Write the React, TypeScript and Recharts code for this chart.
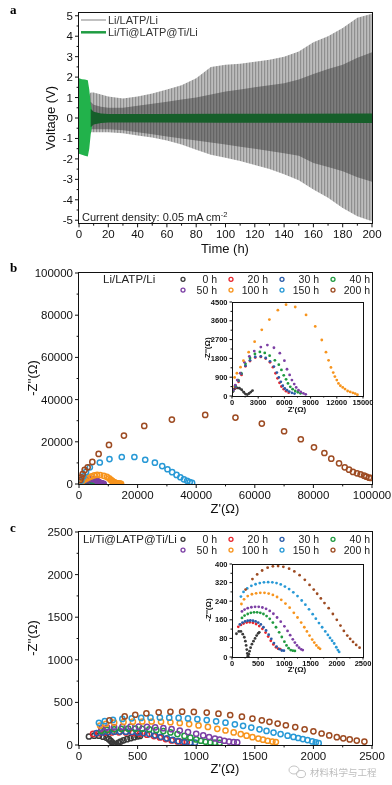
import React from 'react'
import { ComposedChart, ScatterChart, Scatter, Area, XAxis, YAxis } from 'recharts'

const FONT = '"Liberation Sans", Arial, Helvetica, sans-serif'
const SERIF = '"Liberation Serif", "DejaVu Serif", serif'

// ---- panel a: galvanostatic cycling envelopes ----
const grayTime = [3, 5, 8, 10, 15, 20, 30, 40, 50, 60, 70, 80, 90, 100, 110, 120, 130, 140, 150, 160, 170, 180, 190, 200]
const grayOuterHigh = [0.3, 0.95, 1.25, 1.25, 1.15, 1.05, 0.95, 1.05, 1.2, 1.4, 1.6, 1.95, 2.5, 2.6, 2.65, 2.75, 2.85, 3.0, 3.25, 3.7, 4.0, 4.4, 4.9, 5.1]
const grayOuterLow = [-0.3, -0.6, -0.7, -0.7, -0.7, -0.7, -0.75, -0.85, -0.95, -1.1, -1.3, -1.55, -1.8, -1.95, -2.1, -2.3, -2.5, -2.75, -3.05, -3.5, -3.9, -4.4, -4.8, -5.05]
const grayInnerHigh = [0.2, 0.55, 0.8, 0.65, 0.55, 0.5, 0.5, 0.6, 0.7, 0.8, 0.9, 1.0, 1.15, 1.3, 1.4, 1.5, 1.6, 1.7, 1.88, 2.15, 2.4, 2.6, 2.95, 3.22]
const grayInnerLow = [-0.2, -0.4, -0.55, -0.55, -0.55, -0.55, -0.6, -0.7, -0.8, -0.9, -1.0, -1.1, -1.2, -1.3, -1.4, -1.5, -1.62, -1.72, -1.85, -2.2, -2.4, -2.6, -2.9, -3.12]

const greenTime = [0, 2, 4, 6, 7, 8, 9]
const greenHigh = [1.95, 1.9, 1.88, 1.85, 1.4, 0.7, 0.35]
const greenLow = [-1.75, -1.8, -1.85, -1.88, -1.5, -0.8, -0.4]

const coreTime = [8, 10, 15, 20, 50, 100, 150, 200]
const coreHigh = [0.45, 0.3, 0.22, 0.2, 0.2, 0.21, 0.21, 0.22]
const coreLow = [-0.45, -0.32, -0.24, -0.22, -0.22, -0.23, -0.23, -0.24]

const timeMajor = [0, 20, 40, 60, 80, 100, 120, 140, 160, 180, 200]
const timeMinor = [10, 30, 50, 70, 90, 110, 130, 150, 170, 190]
const voltMajor = [-5, -4, -3, -2, -1, 0, 1, 2, 3, 4, 5]
const voltMinor = [-4.5, -3.5, -2.5, -1.5, -0.5, 0.5, 1.5, 2.5, 3.5, 4.5]

// ---- panel b: Li/LATP/Li impedance, [Z', -Z''] ----
const b0h = [[30, 200], [150, 300], [350, 360], [600, 385], [850, 370], [1100, 300], [1350, 180], [1550, 90], [1750, 70], [1950, 120], [2150, 190], [2350, 260]]
const b20h = [[110, 210], [410, 410], [750, 680], [1090, 1010], [1540, 1420], [2060, 1670], [2660, 1840], [3300, 1870], [3860, 1790], [4350, 1610], [4690, 1380], [4990, 1090], [5210, 845], [5440, 630], [5660, 455], [5925, 325], [6190, 230], [6490, 160]]
const b30h = [[110, 230], [410, 440], [750, 730], [1090, 1060], [1540, 1450], [2060, 1710], [2660, 1870], [3300, 1900], [3860, 1820], [4350, 1660], [4800, 1410], [5140, 1120], [5360, 890], [5590, 680], [5810, 490], [6040, 360], [6300, 280], [6560, 210], [6860, 150], [7160, 115]]
const b40h = [[110, 240], [410, 490], [710, 760], [1050, 1090], [1540, 1540], [2060, 1820], [2625, 2010], [3190, 2110], [3750, 2060], [4310, 1930], [4910, 1710], [5360, 1500], [5660, 1250], [5925, 990], [6190, 800], [6410, 600], [6675, 440], [6940, 325], [7240, 240], [7540, 180], [7840, 130]]
const b50h = [[110, 280], [375, 520], [600, 760], [940, 1090], [1425, 1610], [1990, 1900], [2550, 2150], [3300, 2340], [4050, 2440], [4800, 2310], [5475, 2050], [6000, 1690], [6300, 1280], [6600, 1010], [6860, 760], [7125, 570], [7350, 410], [7610, 280], [7875, 195], [8175, 130], [8440, 80]]
const b100h = [[40, 440], [300, 890], [560, 1090], [975, 1380], [1310, 1690], [1910, 2100], [2590, 2600], [3410, 3170], [4280, 3660], [5250, 4110], [6190, 4370], [7240, 4260], [8480, 3880], [9530, 3330], [10280, 2680], [10760, 2100], [11060, 1710], [11330, 1370], [11590, 1120], [11780, 930], [12000, 760], [12190, 600], [12410, 490], [12680, 410], [12940, 330], [13240, 240], [13540, 195], [13840, 150], [14100, 115], [14360, 65]]
const b150h = [[800, 1600], [1500, 3600], [2400, 5700], [3700, 7900], [7100, 10200], [10400, 11800], [14600, 12800], [18900, 12800], [22600, 11500], [25900, 10100], [28400, 8500], [30200, 7000], [31800, 5600], [33300, 4300], [34600, 3200], [35800, 2200], [36900, 1500], [37800, 900], [38600, 500]]
const b200h = [[455, 1900], [795, 3160], [1250, 4750], [1930, 6650], [2950, 7900], [4550, 10440], [6700, 14240], [10230, 18500], [15340, 22940], [22270, 27530], [31700, 30540], [43070, 32750], [53400, 31500], [62400, 28640], [70000, 25000], [75700, 21200], [80200, 17400], [83750, 14700], [86100, 12000], [88750, 9800], [90700, 7900], [92160, 6800], [93500, 5700], [94900, 5060], [96100, 4590], [97300, 3960], [98070, 3480], [99000, 3000], [99660, 2850]]

// ---- panel c: Li/Ti@LATP@Ti/Li impedance ----
const c0h = [[85, 100], [130, 110], [170, 110], [205, 98], [235, 85], [255, 68], [270, 50], [282, 32], [292, 15], [300, 4], [310, 2], [320, 12], [335, 25], [355, 40], [380, 55], [410, 68], [440, 80], [470, 92], [500, 102], [520, 106]]
const c20h = [[120, 130], [170, 138], [220, 144], [280, 148], [340, 149], [400, 147], [460, 142], [520, 133], [580, 121], [640, 105], [690, 88], [740, 70], [790, 54], [840, 42], [880, 36], [920, 34]]
const c30h = [[150, 140], [200, 148], [250, 153], [300, 156], [350, 157], [400, 156], [450, 153], [500, 148], [550, 140], [600, 128], [650, 114], [700, 96], [750, 78], [800, 60], [850, 45], [900, 34], [950, 28], [990, 27]]
const c40h = [[190, 168], [240, 178], [300, 185], [360, 190], [420, 192], [480, 192], [540, 190], [600, 185], [660, 176], [720, 164], [780, 148], [840, 128], [900, 106], [950, 86], [1000, 66], [1040, 50], [1080, 38], [1120, 30], [1160, 27], [1200, 26]]
const c50h = [[190, 196], [240, 204], [300, 210], [370, 214], [440, 216], [510, 216], [580, 213], [650, 207], [720, 198], [790, 186], [860, 170], [930, 152], [1000, 132], [1060, 112], [1110, 94], [1160, 76], [1200, 62], [1240, 50], [1280, 40], [1320, 33], [1350, 30]]
const c100h = [[180, 228], [230, 248], [300, 262], [380, 270], [460, 274], [540, 276], [620, 276], [700, 273], [780, 267], [860, 258], [940, 246], [1020, 230], [1100, 212], [1180, 190], [1250, 170], [1320, 148], [1380, 128], [1430, 110], [1480, 92], [1530, 75], [1570, 62], [1610, 50], [1650, 40], [1680, 35]]
const c150h = [[170, 260], [220, 280], [290, 295], [370, 306], [450, 313], [530, 318], [610, 321], [690, 322], [770, 321], [850, 318], [930, 312], [1010, 303], [1090, 292], [1170, 278], [1250, 262], [1330, 243], [1400, 225], [1470, 205], [1540, 184], [1600, 165], [1660, 146], [1720, 128], [1780, 110], [1830, 95], [1870, 82], [1910, 70], [1950, 58], [1990, 42], [2020, 30], [2045, 22]]
const c200h = [[260, 290], [390, 335], [480, 355], [575, 372], [680, 384], [780, 390], [880, 391], [980, 388], [1090, 380], [1190, 368], [1290, 352], [1390, 332], [1480, 310], [1560, 290], [1625, 272], [1695, 252], [1765, 232], [1845, 210], [1925, 185], [2000, 160], [2070, 135], [2135, 112], [2200, 92], [2255, 78], [2310, 65], [2370, 52], [2435, 40]]

const seriesNames = ['0 h', '20 h', '30 h', '40 h', '50 h', '100 h', '150 h', '200 h']
const seriesColors = ['#3a3a3a', '#e8262d', '#2a5ba8', '#1f9a3f', '#7c3fa4', '#f7941d', '#2899d6', '#9d4b22']
const bData = [b0h, b20h, b30h, b40h, b50h, b100h, b150h, b200h]
const cData = [c0h, c20h, c30h, c40h, c50h, c100h, c150h, c200h]

const bMainXMajor = [0, 20000, 40000, 60000, 80000, 100000]
const bMainXMinor = [10000, 30000, 50000, 70000, 90000]
const bMainYMajor = [0, 20000, 40000, 60000, 80000, 100000]
const bMainYMinor = [10000, 30000, 50000, 70000, 90000]
const bInsetXMajor = [0, 3000, 6000, 9000, 12000, 15000]
const bInsetXMinor = [1500, 4500, 7500, 10500, 13500]
const bInsetYMajor = [0, 900, 1800, 2700, 3600, 4500]
const bInsetYMinor = [450, 1350, 2250, 3150, 4050]
const cMainMajor = [0, 500, 1000, 1500, 2000, 2500]
const cMainMinor = [250, 750, 1250, 1750, 2250]
const cInsetYMajor = [0, 80, 160, 240, 320, 400]
const cInsetYMinor = [40, 120, 200, 280, 360]

const toPts = (arr: number[][]) => arr.map(([x, y]) => ({ x, y }))

const xTick = (majors: number[], size: number, len: number, weight = 'normal', gap = 1.5) => (p: any) => {
  const v = p.payload.value
  const major = majors.includes(v)
  return (
    <g>
      <line x1={p.x} y1={p.y} x2={p.x} y2={p.y + (major ? len : len * 0.6)} stroke="#111" strokeWidth={1} />
      {major && (
        <text x={p.x} y={p.y + len + gap} dy="0.8em" textAnchor="middle" fontSize={size} fontWeight={weight} fill="#111" fontFamily={FONT}>
          {v}
        </text>
      )}
    </g>
  )
}

const yTick = (majors: number[], size: number, len: number, weight = 'normal') => (p: any) => {
  const v = p.payload.value
  const major = majors.includes(v)
  return (
    <g>
      <line x1={p.x} y1={p.y} x2={p.x - (major ? len : len * 0.6)} y2={p.y} stroke="#111" strokeWidth={1} />
      {major && (
        <text x={p.x - len - 2} y={p.y} dy="0.35em" textAnchor="end" fontSize={size} fontWeight={weight} fill="#111" fontFamily={FONT}>
          {v}
        </text>
      )}
    </g>
  )
}

const openCircle = (color: string) => (p: any) => (
  <circle cx={p.cx} cy={p.cy} r={2.6} fill="none" stroke={color} strokeWidth={1.5} />
)
const dot = (color: string) => (p: any) => <circle cx={p.cx} cy={p.cy} r={1.4} fill={color} />

const Frame = ({ left, top, width, height, w = 1.2 }: any) => (
  <div
    style={{
      position: 'absolute',
      left: left - w / 2,
      top: top - w / 2,
      width: width + w,
      height: height + w,
      border: `${w}px solid #111`,
      boxSizing: 'border-box',
      pointerEvents: 'none'
    }}
  />
)

const VoltagePanel = () => {
  const grayData = grayTime.map((t, i) => ({
    t,
    outer: [grayOuterLow[i], grayOuterHigh[i]],
    inner: [grayInnerLow[i], grayInnerHigh[i]]
  }))
  const greenData = greenTime.map((t, i) => ({ t, v: [greenLow[i], greenHigh[i]] }))
  const coreData = coreTime.map((t, i) => ({ t, v: [coreLow[i], coreHigh[i]] }))
  return (
    <div style={{ position: 'absolute', left: 0, top: 0 }}>
      <ComposedChart width={392} height={260} margin={{ top: 12.7, right: 20, bottom: 6.7, left: 0 }}>
        <defs>
          <pattern id="stripeOuter" width="3" height="10" patternUnits="userSpaceOnUse">
            <rect width="3" height="10" fill="#bcbcbc" />
            <rect width="1.2" height="10" fill="#8f8f8f" />
          </pattern>
          <pattern id="stripeInner" width="3" height="10" patternUnits="userSpaceOnUse">
            <rect width="3" height="10" fill="#7c7c7c" />
            <rect width="1.2" height="10" fill="#646464" />
          </pattern>
        </defs>
        <XAxis
          dataKey="t"
          type="number"
          domain={[0, 200]}
          allowDataOverflow
          ticks={[...timeMajor, ...timeMinor]}
          interval={0}
          tickSize={0}
          tickMargin={0}
          axisLine={false}
          tickLine={false}
          tick={xTick(timeMajor, 11.5, 4)}
          height={30}
        />
        <YAxis
          type="number"
          domain={[-5.15, 5.15]}
          allowDataOverflow
          ticks={[...voltMajor, ...voltMinor]}
          interval={0}
          tickSize={0}
          tickMargin={0}
          axisLine={false}
          tickLine={false}
          tick={yTick(voltMajor, 11.5, 4)}
          width={79}
        />
        <Area data={grayData} dataKey="outer" type="linear" stroke="none" fill="url(#stripeOuter)" fillOpacity={1} isAnimationActive={false} />
        <Area data={grayData} dataKey="inner" type="linear" stroke="none" fill="url(#stripeInner)" fillOpacity={1} isAnimationActive={false} />
        <Area data={greenData} dataKey="v" type="linear" stroke="none" fill="#22b24b" fillOpacity={1} className="green-bright" isAnimationActive={false} />
        <Area data={coreData} dataKey="v" type="linear" stroke="none" fill="#165f2a" fillOpacity={1} isAnimationActive={false} />
      </ComposedChart>
    </div>
  )
}

const NyquistMain = ({ top, height, data, xMax, xMajor, xMinor, yMajor, yMinor, marginTop, marginBottom }: any) => (
  <div style={{ position: 'absolute', left: 0, top }}>
    <ScatterChart width={392} height={height} margin={{ top: marginTop, right: 20, bottom: marginBottom, left: 0 }}>
      <XAxis
        dataKey="x"
        type="number"
        domain={[0, xMax]}
        allowDataOverflow
        ticks={[...xMajor, ...xMinor]}
        interval={0}
        tickSize={0}
        tickMargin={0}
        axisLine={false}
        tickLine={false}
        tick={xTick(xMajor, 11.5, 4)}
        height={30}
      />
      <YAxis
        dataKey="y"
        type="number"
        domain={[0, xMax]}
        allowDataOverflow
        ticks={[...yMajor, ...yMinor]}
        interval={0}
        tickSize={0}
        tickMargin={0}
        axisLine={false}
        tickLine={false}
        tick={yTick(yMajor, 11.5, 4)}
        width={79}
      />
      {data.map((pts: number[][], i: number) => (
        <Scatter key={seriesNames[i]} name={seriesNames[i]} data={toPts(pts)} shape={openCircle(seriesColors[i])} isAnimationActive={false} />
      ))}
    </ScatterChart>
  </div>
)

const NyquistInset = ({ top, data, xMax, yMax, xMajor, xMinor, yMajor, yMinor, lineFirst }: any) => (
  <div style={{ position: 'absolute', left: 200, top }}>
    <ScatterChart width={186} height={115} margin={{ top: 4, right: 23, bottom: top > 500 ? 4 : 3, left: 0 }}>
      <XAxis
        dataKey="x"
        type="number"
        domain={[0, xMax]}
        allowDataOverflow
        ticks={[...xMajor, ...xMinor]}
        interval={0}
        tickSize={0}
        tickMargin={0}
        axisLine={false}
        tickLine={false}
        tick={xTick(xMajor, 7.5, 2.5, 'bold', 0)}
        height={14}
      />
      <YAxis
        dataKey="y"
        type="number"
        domain={[0, yMax]}
        allowDataOverflow
        ticks={[...yMajor, ...yMinor]}
        interval={0}
        tickSize={0}
        tickMargin={0}
        axisLine={false}
        tickLine={false}
        tick={yTick(yMajor, 7.5, 2.5, 'bold')}
        width={32}
      />
      {data.map((pts: number[][], i: number) => (
        <Scatter
          key={seriesNames[i]}
          name={seriesNames[i]}
          data={toPts(pts)}
          shape={dot(seriesColors[i])}
          line={lineFirst && i === 0 ? { stroke: seriesColors[0], strokeWidth: 1.3 } : false}
          isAnimationActive={false}
        />
      ))}
    </ScatterChart>
  </div>
)

const legendMarkX = [183, 231, 282, 333]
const legendLabelRight = [217, 268, 319, 370]

const LegendGrid = ({ y }: { y: number }) => (
  <g>
    {seriesNames.map((n, i) => {
      const col = i % 4
      const row = Math.floor(i / 4)
      const cy = y + row * 10.8
      return (
        <g key={n}>
          <circle cx={legendMarkX[col]} cy={cy} r={2} fill="none" stroke={seriesColors[i]} strokeWidth={1.3} />
          <text x={legendLabelRight[col]} y={cy} dy="0.35em" textAnchor="end" fontSize={10.5} fill="#222" fontFamily={FONT}>
            {n}
          </text>
        </g>
      )
    })}
  </g>
)

const Overlay = () => (
  <svg width={392} height={785} style={{ position: 'absolute', left: 0, top: 0, pointerEvents: 'none' }}>
    <text x={10} y={14} fontSize={13} fontWeight="bold" fontFamily={SERIF}>a</text>
    <text x={10} y={272} fontSize={13} fontWeight="bold" fontFamily={SERIF}>b</text>
    <text x={10} y={532} fontSize={13} fontWeight="bold" fontFamily={SERIF}>c</text>

    {/* panel a */}
    <line x1={81} y1={20} x2={106} y2={20} stroke="#a0a0a0" strokeWidth={1.3} />
    <text x={108} y={20} dy="0.35em" fontSize={11} fill="#333" fontFamily={FONT}>Li/LATP/Li</text>
    <line x1={81} y1={32.3} x2={106} y2={32.3} stroke="#1f9c42" strokeWidth={2.5} />
    <text x={108} y={32.3} dy="0.35em" fontSize={11} fill="#333" fontFamily={FONT}>Li/Ti@LATP@Ti/Li</text>
    <text x={82} y={217} dy="0.35em" fontSize={11} fill="#222" fontFamily={FONT}>
      Current density: 0.05 mA cm<tspan dy="-4" fontSize={7.5}>-2</tspan>
    </text>
    <text x={225} y={248} dy="0.35em" textAnchor="middle" fontSize={13} fill="#111" fontFamily={FONT}>Time (h)</text>
    <text transform="translate(50,118) rotate(-90)" dy="0.35em" textAnchor="middle" fontSize={13} fill="#111" fontFamily={FONT}>Voltage (V)</text>

    {/* panel b */}
    <text x={103} y={279.3} dy="0.35em" fontSize={11.5} fill="#222" fontFamily={FONT}>Li/LATP/Li</text>
    <LegendGrid y={279.3} />
    <text x={225} y={508} dy="0.35em" textAnchor="middle" fontSize={13} fill="#111" fontFamily={FONT}>Z'(Ω)</text>
    <text transform="translate(32,378) rotate(-90)" dy="0.35em" textAnchor="middle" fontSize={13} fill="#111" fontFamily={FONT}>-Z''(Ω)</text>
    <text x={297} y={409} dy="0.35em" textAnchor="middle" fontSize={8} fontWeight="bold" fill="#111" fontFamily={FONT}>Z'(Ω)</text>
    <text transform="translate(207,349) rotate(-90)" dy="0.35em" textAnchor="middle" fontSize={8} fontWeight="bold" fill="#111" fontFamily={FONT}>-Z''(Ω)</text>

    {/* panel c */}
    <text x={83} y={539.3} dy="0.35em" fontSize={11.5} fill="#222" fontFamily={FONT}>Li/Ti@LATP@Ti/Li</text>
    <LegendGrid y={539.3} />
    <text x={225} y={768} dy="0.35em" textAnchor="middle" fontSize={13} fill="#111" fontFamily={FONT}>Z'(Ω)</text>
    <text transform="translate(32,638) rotate(-90)" dy="0.35em" textAnchor="middle" fontSize={13} fill="#111" fontFamily={FONT}>-Z''(Ω)</text>
    <text x={297} y={669.5} dy="0.35em" textAnchor="middle" fontSize={8} fontWeight="bold" fill="#111" fontFamily={FONT}>Z'(Ω)</text>
    <text transform="translate(208,610) rotate(-90)" dy="0.35em" textAnchor="middle" fontSize={8} fontWeight="bold" fill="#111" fontFamily={FONT}>-Z''(Ω)</text>

    {/* watermark */}
    <ellipse cx={294} cy={770} rx={5} ry={4} fill="none" stroke="#c4c4c4" strokeWidth={1} />
    <ellipse cx={301} cy={774} rx={4.5} ry={3.6} fill="none" stroke="#c4c4c4" strokeWidth={1} />
    <text x={310} y={773} dy="0.35em" fontSize={9.5} fill="#bdbdbd" fontFamily='"Noto Sans CJK SC", sans-serif'>材料科学与工程</text>
  </svg>
)

export default function App() {
  return (
    <div style={{ position: 'absolute', left: 0, top: 0, width: 392, height: 785, background: '#fff', overflow: 'hidden' }}>
      <style>{'.green-bright path { mix-blend-mode: multiply; }'}</style>
      <VoltagePanel />
      <Frame left={79} top={12.7} width={293} height={210.6} />
      <NyquistMain
        top={250}
        height={270}
        data={bData}
        xMax={100000}
        xMajor={bMainXMajor}
        xMinor={bMainXMinor}
        yMajor={bMainYMajor}
        yMinor={bMainYMinor}
        marginTop={23}
        marginBottom={6}
      />
      <Frame left={79} top={273} width={293} height={211} />
      <NyquistInset
        top={298}
        data={bData.slice(0, 6)}
        xMax={15000}
        yMax={4500}
        xMajor={bInsetXMajor}
        xMinor={bInsetXMinor}
        yMajor={bInsetYMajor}
        yMinor={bInsetYMinor}
        lineFirst
      />
      <Frame left={232} top={302} width={131} height={94} w={1} />
      <NyquistMain
        top={510}
        height={275}
        data={cData}
        xMax={2500}
        xMajor={cMainMajor}
        xMinor={cMainMinor}
        yMajor={cMainMajor}
        yMinor={cMainMinor}
        marginTop={22}
        marginBottom={10}
      />
      <Frame left={79} top={532} width={293} height={213} />
      <NyquistInset
        top={560}
        data={cData}
        xMax={2500}
        yMax={400}
        xMajor={cMainMajor}
        xMinor={cMainMinor}
        yMajor={cInsetYMajor}
        yMinor={cInsetYMinor}
      />
      <Frame left={232} top={564} width={131} height={93} w={1} />
      <Overlay />
    </div>
  )
}
